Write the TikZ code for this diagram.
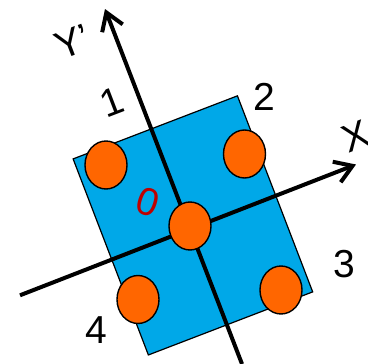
\documentclass[tikz,border=0pt]{standalone}
\usepackage{fontspec}
\setmainfont{Liberation Sans}
\usetikzlibrary{arrows.meta, shapes.geometric}

\definecolor{plateblue}{RGB}{0,168,232}
\definecolor{dotorange}{RGB}{255,102,0}
\definecolor{originred}{RGB}{192,0,0}

\begin{document}
\begin{tikzpicture}[x=1pt, y=-1pt,
			plate/.style={rectangle, draw, line width=1.2pt, fill=plateblue,
					inner sep=0pt, minimum width=176pt, minimum height=210pt, rotate=21},
			dot/.style={ellipse, draw, line width=1.4pt, fill=dotorange,
					inner sep=0pt, minimum width=42pt, minimum height=48pt},
			lbl/.style={font=\fontsize{39}{39}\selectfont, inner sep=0pt},
			axis/.style={line width=4pt, -{Straight Barb[length=17pt, width=22pt, line width=4pt]}},
		]
		\useasboundingbox (0,0) rectangle (368,364);
		\node (plate) [plate] at (192.9,225.4) {};

		% axes through the origin
		\coordinate (yb) at (242,364);
		\coordinate (yt) at (105,9);
		\coordinate (xl) at (20,295.3);
		\coordinate (xr) at (356,164.5);
		\draw [axis] (yb) -- (yt);
		\draw [axis] (xl) -- (xr);

		% dots
		\node (e0) [dot] at (190,226)   {};
		\node (e1) [dot] at (106,165)   {};
		\node (e2) [dot] at (244.5,154) {};
		\node (e3) [dot] at (281,290)   {};
		\node (e4) [dot] at (138,299.5) {};

		% labels
		\node (ylbl) [lbl, rotate=21]  at (73,42)   {Y’};
		\node (xlbl) [lbl, rotate=21]  at (356,136) {X};
		\node (l0)   [lbl, rotate=-18, text=originred] at (148,202) {0};
		\node (l1)   [lbl, rotate=21]  at (112,102) {1};
		\node (l2)   [lbl]             at (264,97)  {2};
		\node (l3)   [lbl]             at (344,264) {3};
		\node (l4)   [lbl]             at (96,330)  {4};
	\end{tikzpicture}
\end{document}
